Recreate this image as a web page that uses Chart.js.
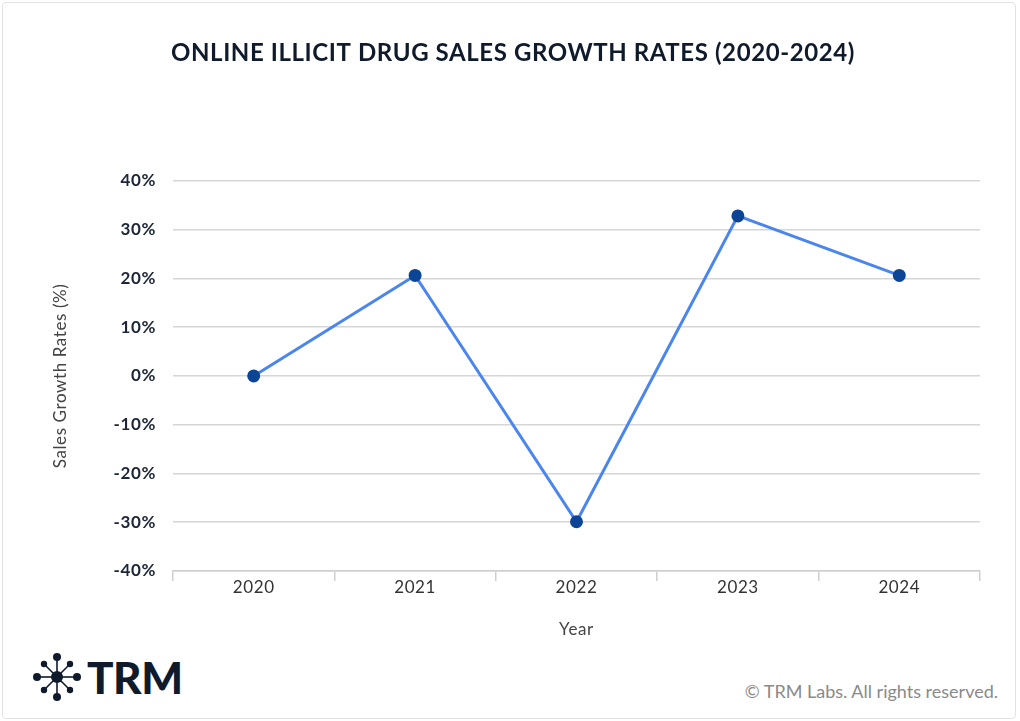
<!DOCTYPE html>
<html>
<head>
<meta charset="utf-8">
<title>Online Illicit Drug Sales Growth Rates</title>
<script src="https://cdn.jsdelivr.net/npm/chart.js@4"></script>
<style>
    html, body { margin: 0; padding: 0; background: #fff; }
    body { width: 1020px; height: 721px; position: relative; overflow: hidden; font-family: Lato, "Open Sans", sans-serif; }
    .card { position: absolute; left: 2px; top: 2px; width: 1014px; height: 717px; border: 1px solid #e3e3e3; border-radius: 4px; box-sizing: border-box; }
    #chartBox { position: absolute; left: 0; top: 0; width: 1020px; height: 650px; }
    .logo { position: absolute; left: 32px; top: 652px; height: 50px; display: flex; align-items: center; }
    .logo span { font-family: Lato, sans-serif; font-weight: 900; font-size: 44px; color: #0f1a2a; margin-left: 5px; letter-spacing: -0.5px; }
    .copy { position: absolute; right: 22px; top: 680px; font-size: 18px; color: #8a8a8a; font-family: Lato, sans-serif; }
</style>
</head>
<body>
<div class="card"></div>
<div id="chartBox"><canvas id="growthChart"></canvas></div>
<div class="logo">
    <svg width="50" height="50" viewBox="0 0 50 50">
        <g stroke="#0f1a2a" stroke-width="1.6">
            <line x1="25" y1="25" x2="25" y2="5"/>
            <line x1="25" y1="25" x2="25" y2="45"/>
            <line x1="25" y1="25" x2="5" y2="25"/>
            <line x1="25" y1="25" x2="45" y2="25"/>
            <line x1="25" y1="25" x2="12" y2="12"/>
            <line x1="25" y1="25" x2="38" y2="12"/>
            <line x1="25" y1="25" x2="12" y2="38"/>
            <line x1="25" y1="25" x2="38" y2="38"/>
        </g>
        <g fill="#0f1a2a">
            <circle cx="25" cy="25" r="6"/>
            <circle cx="25" cy="5" r="4"/>
            <circle cx="25" cy="45" r="4"/>
            <circle cx="5" cy="25" r="4"/>
            <circle cx="45" cy="25" r="4"/>
            <circle cx="12" cy="12" r="3.2"/>
            <circle cx="38" cy="12" r="3.2"/>
            <circle cx="12" cy="38" r="3.2"/>
            <circle cx="38" cy="38" r="3.2"/>
        </g>
    </svg>
    <span>TRM</span>
</div>
<div class="copy">© TRM Labs. All rights reserved.</div>

<script>
const years = ['2020', '2021', '2022', '2023', '2024'];
const growthRates = [0, 20.6, -29.9, 32.8, 20.6];
const yTicks = [-40, -30, -20, -10, 0, 10, 20, 30, 40];

const FONT = 'Lato, "Open Sans", sans-serif';

// canvas has no letter-spacing option in Chart.js, so space the title by hand
const titleSpacing = {
    id: 'titleSpacing',
    beforeDraw(chart) { chart.ctx.letterSpacing = '0.6px'; },
    afterDraw(chart) { chart.ctx.letterSpacing = '0px'; },
    beforeDatasetsDraw(chart) { chart.ctx.letterSpacing = '0px'; }
};

let ctx = document.getElementById('growthChart').getContext('2d');

new Chart(ctx, {
    type: 'line',
    data: {
        labels: years,
        datasets: [{
            label: 'Sales Growth Rates (%)',
            data: growthRates,
            borderColor: '#4a86ee',
            borderWidth: 3,
            pointBackgroundColor: '#0c4595',
            pointBorderColor: '#0c4595',
            pointRadius: 5,
            tension: 0
        }]
    },
    options: {
        responsive: true,
        maintainAspectRatio: false,
        animation: false,
        layout: {
            padding: { left: 46, right: 40, top: 0, bottom: 0 }
        },
        plugins: {
            legend: { display: false },
            tooltip: { enabled: false },
            title: {
                display: true,
                text: 'ONLINE ILLICIT DRUG SALES GROWTH RATES (2020-2024)',
                color: '#0f1a2a',
                font: { family: FONT, size: 24, weight: 'bold' },
                padding: { top: 39, bottom: 113 }
            }
        },
        scales: {
            x: {
                offset: true,
                grid: {
                    display: true,
                    offset: true,
                    drawOnChartArea: false,
                    tickLength: 10,
                    color: '#cfcfcf',
                    lineWidth: 1.5
                },
                border: { display: true, color: '#cfcfcf', width: 1.5 },
                ticks: {
                    color: '#333',
                    font: { family: FONT, size: 17 },
                    padding: -4
                },
                title: {
                    display: true,
                    text: 'Year',
                    color: '#444',
                    font: { family: FONT, size: 17 },
                    padding: { top: 2, bottom: 10 }
                },
                afterFit: (scale) => { scale.height = 79; }
            },
            y: {
                min: -40,
                max: 40,
                afterBuildTicks: (scale) => {
                    scale.ticks = yTicks.map(v => ({ value: v }));
                },
                grid: {
                    color: '#d6d6d6',
                    lineWidth: 1.5,
                    drawTicks: false
                },
                border: { display: false },
                ticks: {
                    color: '#1d2636',
                    font: { family: FONT, size: 17, weight: 'bold' },
                    padding: 17,
                    callback: (v) => v + '%'
                },
                title: {
                    display: true,
                    text: 'Sales Growth Rates (%)',
                    color: '#444',
                    font: { family: FONT, size: 17 }
                },
                afterFit: (scale) => { scale.width = 173 - 46; }
            }
        }
    },
    plugins: [titleSpacing]
});
</script>
</body>
</html>
